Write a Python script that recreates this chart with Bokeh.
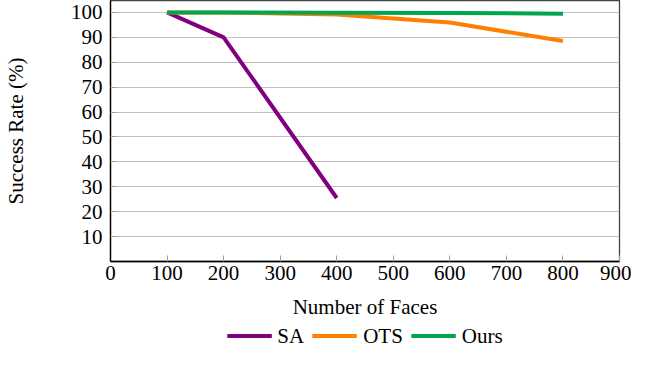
from bokeh.plotting import figure
from bokeh.models import Range1d, FixedTicker, Legend, LegendItem
from bokeh.layouts import column
from bokeh.embed import file_html
from bokeh.resources import INLINE

faces_sa = [100, 200, 400]
rate_sa = [100, 90, 25.5]
faces_ots = [100, 200, 400, 600, 800]
rate_ots = [100, 100, 99.2, 96, 88.5]
faces_ours = [100, 200, 400, 600, 800]
rate_ours = [100, 100, 99.9, 99.8, 99.5]
x_ticks = [0, 100, 200, 300, 400, 500, 600, 700, 800, 900]
y_ticks = [10, 20, 30, 40, 50, 60, 70, 80, 90, 100]
series_names = ["SA", "OTS", "Ours"]
series_colors = ["#800080", "#ff8000", "#00a651"]

FONT = "Liberation Serif"
FS = "21px"
W = 631

p = figure(width=W, height=322, output_backend="svg", toolbar_location=None,
           x_range=Range1d(0, 900), y_range=Range1d(0, 104.8))
p.min_border_left = 104
p.min_border_right = 12
p.min_border_top = 0
p.min_border_bottom = 61

p.outline_line_color = "#444444"
p.outline_line_width = 1.3

for ax in (p.xaxis[0], p.yaxis[0]):
    ax.axis_line_color = "black"
    ax.axis_line_width = 1.3
    ax.major_tick_line_color = "#a0a0a0"
    ax.major_tick_in = 6
    ax.major_tick_out = 0
    ax.minor_tick_line_color = None
    ax.major_label_text_font = FONT
    ax.major_label_text_font_size = FS
    ax.major_label_text_color = "black"
    ax.axis_label_text_font = FONT
    ax.axis_label_text_font_size = FS
    ax.axis_label_text_font_style = "normal"
    ax.axis_label_text_color = "black"

p.xaxis.ticker = FixedTicker(ticks=x_ticks)
p.yaxis.ticker = FixedTicker(ticks=y_ticks)
p.xaxis.major_label_standoff = 4
p.yaxis.major_label_standoff = 8
p.xaxis.axis_label = "Number of Faces"
p.xaxis.axis_label_standoff = 12
p.yaxis.axis_label = "Success Rate (%)"
p.yaxis.axis_label_standoff = 40

p.xgrid.grid_line_color = None
p.ygrid.grid_line_color = "#c0c0c0"
p.ygrid.grid_line_width = 1

p.line(faces_sa, rate_sa, line_color=series_colors[0], line_width=4)
p.line(faces_ots, rate_ots, line_color=series_colors[1], line_width=4)
p.line(faces_ours, rate_ours, line_color=series_colors[2], line_width=4)

# legend strip below the chart
lg = figure(width=W, height=27, output_backend="svg", toolbar_location=None,
            x_range=Range1d(-2000, -1000), y_range=Range1d(-2000, -1000))
lg.axis.visible = False
lg.grid.visible = False
lg.outline_line_color = None
lg.min_border = 0
lg.min_border_left = 104
lg.min_border_right = 12
l1 = lg.line(faces_sa, rate_sa, line_color=series_colors[0], line_width=4)
l2 = lg.line(faces_ots, rate_ots, line_color=series_colors[1], line_width=4)
l3 = lg.line(faces_ours, rate_ours, line_color=series_colors[2], line_width=4)

legend = Legend(items=[LegendItem(label=series_names[0], renderers=[l1]),
                       LegendItem(label=series_names[1], renderers=[l2]),
                       LegendItem(label=series_names[2], renderers=[l3])],
                orientation="horizontal", location="center")
legend.label_text_font = FONT
legend.label_text_font_size = FS
legend.label_text_color = "black"
legend.label_standoff = 6
legend.glyph_width = 45
legend.glyph_height = 20
legend.spacing = 8
legend.padding = 0
legend.margin = 0
legend.border_line_color = None
legend.background_fill_alpha = 0
lg.add_layout(legend)

layout = column(p, lg, spacing=0, width=W, height=349, sizing_mode="fixed")
open("out.html", "w").write(file_html(layout, INLINE))
